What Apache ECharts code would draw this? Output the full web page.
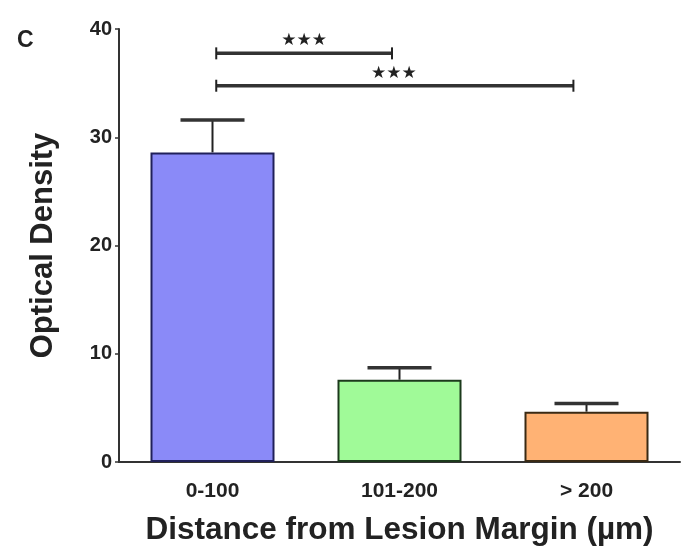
<!DOCTYPE html>
<html><head><meta charset="utf-8">
<script src="https://cdn.jsdelivr.net/npm/echarts@6/dist/echarts.min.js"></script>
<style>html,body{margin:0;padding:0;background:#fff}#c{width:686px;height:550px}</style>
</head><body><div id="c"></div>
<script>
var categories = ['0-100', '101-200', '> 200'];
var means = [28.6, 7.6, 4.65];
var upperErr = [31.6, 8.7, 5.4];
var fills = ['#8a8af8', '#a0fa98', '#ffb274'];
var borders = ['#20205a', '#1c3a1c', '#3a2a14'];
var yTicks = [0, 10, 20, 30, 40];
// significance brackets: [fromX, toX, yLevel] in category units
var brackets = [[0.02, 0.96, 37.75], [0.02, 1.93, 34.76]];
var bracketStars = ['\u2605\u2605\u2605', '\u2605\u2605\u2605'];
var starX = [0.49, 0.97];

var chart = echarts.init(document.getElementById('c'));
var font = 'Liberation Sans, Arial, sans-serif';
chart.setOption({
  animation: false,
  backgroundColor: '#fff',
  title: {text: 'C', left: 12, top: 24, textStyle: {fontFamily: font, fontWeight: 'bold', fontSize: 23, color: '#222'}},
  grid: {left: 119, right: 6, top: 29, bottom: 88, outerBoundsMode: 'none', containLabel: false},
  xAxis: [{
    type: 'category', data: categories,
    axisLine: {lineStyle: {color: '#333', width: 2}},
    axisTick: {alignWithLabel: true, length: 4, lineStyle: {color: '#333', width: 1.5}},
    axisLabel: {fontFamily: font, fontWeight: 'bold', fontSize: 21, color: '#222', margin: 19},
    name: 'Distance from Lesion Margin (\u00b5m)', nameLocation: 'middle', nameGap: 52,
    nameTextStyle: {fontFamily: font, fontWeight: 'bold', fontSize: 31.5, color: '#222'}
  }, {
    type: 'value', min: -0.5, max: 2.5, show: false
  }],
  yAxis: {
    type: 'value', min: 0, max: 40, interval: 10,
    axisLine: {show: true, onZero: false, lineStyle: {color: '#333', width: 2}},
    axisTick: {show: true, length: 4, lineStyle: {color: '#333', width: 1.5}},
    splitLine: {show: false},
    axisLabel: {fontFamily: font, fontWeight: 'bold', fontSize: 20, color: '#222', margin: 7,
      formatter: function (v) { return yTicks.indexOf(v) >= 0 ? String(v) : ''; }},
    name: 'Optical Density', nameLocation: 'middle', nameGap: 60,
    nameTextStyle: {fontFamily: font, fontWeight: 'bold', fontSize: 31, color: '#222'}
  },
  series: [{
    type: 'bar', barWidth: 124, xAxisIndex: 0,
    data: means.map(function (v, i) {
      return {value: v, itemStyle: {color: fills[i], borderColor: borders[i], borderWidth: 2}};
    })
  }, {
    type: 'custom', xAxisIndex: 0,
    data: means.map(function (v, i) { return [i, v, upperErr[i]]; }),
    renderItem: function (params, api) {
      var lo = api.coord([api.value(0), api.value(1)]);
      var hi = api.coord([api.value(0), api.value(2)]);
      var hw = 32;
      return {type: 'group', children: [
        {type: 'line', shape: {x1: lo[0], y1: lo[1], x2: hi[0], y2: hi[1]}, style: {stroke: '#222', lineWidth: 2}},
        {type: 'line', shape: {x1: hi[0] - hw, y1: hi[1], x2: hi[0] + hw, y2: hi[1]}, style: {stroke: '#333', lineWidth: 3.5}}
      ]};
    }
  }, {
    type: 'custom', xAxisIndex: 1,
    data: brackets.map(function (b, i) { return [b[0], b[1], b[2], starX[i]]; }),
    renderItem: function (params, api) {
      var a = api.coord([api.value(0), api.value(2)]);
      var b = api.coord([api.value(1), api.value(2)]);
      var s = api.coord([api.value(3), api.value(2)]);
      return {type: 'group', children: [
        {type: 'line', shape: {x1: a[0], y1: a[1], x2: b[0], y2: b[1]}, style: {stroke: '#333', lineWidth: 3.5}},
        {type: 'line', shape: {x1: a[0], y1: a[1] - 6, x2: a[0], y2: a[1] + 6}, style: {stroke: '#222', lineWidth: 2}},
        {type: 'line', shape: {x1: b[0], y1: b[1] - 6, x2: b[0], y2: b[1] + 6}, style: {stroke: '#222', lineWidth: 2}},
        {type: 'text', style: {text: bracketStars[params.dataIndex], x: s[0], y: s[1] - 12.5, align: 'center', verticalAlign: 'middle',
          font: 'bold 17px DejaVu Sans, sans-serif', fill: '#222'}}
      ]};
    }
  }]
});
</script></body></html>
